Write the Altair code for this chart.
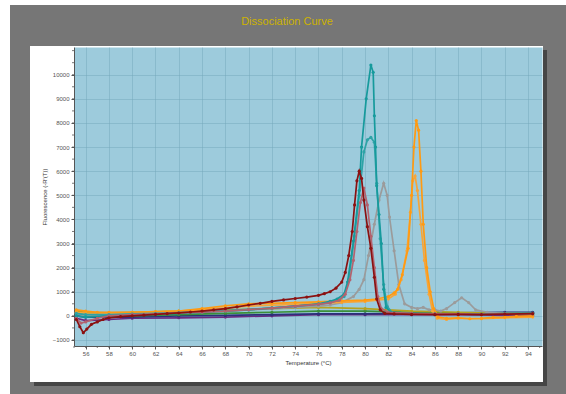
import altair as alt
import pandas as pd

# ---- axis ticks ----
X_TICKS = list(range(56, 95, 2))
Y_TICKS = list(range(-1000, 10001, 1000))
X_MINOR = list(range(55, 96, 1))
Y_MINOR = list(range(-1000, 11001, 500))

# ---- series (temperature °C, fluorescence) ----
DKRED_T = [55.2, 55.5, 55.8, 56.1, 56.5, 57, 57.5, 58, 59, 60, 61, 62, 63, 64, 65, 66, 67, 68, 69, 70, 71, 72, 73, 74, 75, 76, 76.5, 77, 77.5, 78, 78.3, 78.6, 78.9, 79.1, 79.3, 79.5, 79.7, 79.9, 80.2, 80.5, 80.8, 81.0, 81.3, 81.7, 82.5, 84, 86, 88, 90, 92, 94.4]
DKRED_F = [-150, -450, -700, -550, -350, -250, -150, -80, -30, 0, 30, 60, 90, 120, 160, 200, 250, 300, 370, 450, 520, 600, 660, 720, 780, 850, 920, 1000, 1150, 1400, 1800, 2500, 3500, 4600, 5600, 6000, 5700, 4800, 3700, 2800, 1600, 700, 250, 100, 80, 60, 50, 60, 50, 70, 90]

ROSY_T = [55.2, 55.6, 56, 57, 58, 60, 62, 64, 66, 68, 70, 72, 74, 76, 77, 77.8, 78.3, 78.7, 79.0, 79.3, 79.6, 79.9, 80.2, 80.5, 80.8, 81.1, 81.4, 82, 84, 86, 88, 90, 92, 94.4]
ROSY_F = [-100, -300, -250, -100, 0, 50, 80, 120, 150, 200, 260, 320, 400, 480, 540, 650, 900, 1500, 2300, 3500, 4700, 5300, 4600, 3300, 2000, 800, 300, 150, 100, 80, 80, 60, 80, 80]

TEAL1_T = [55.2, 56, 58, 60, 62, 64, 66, 68, 70, 72, 74, 76, 77, 77.6, 78.2, 78.5, 79.0, 79.5, 79.7, 80.1, 80.5, 80.7, 80.8, 80.9, 81.0, 81.2, 81.4, 81.6, 81.8, 82.2, 83, 84, 86, 88, 90, 92, 94.4]
TEAL1_F = [0, -50, 0, 30, 60, 100, 150, 200, 250, 320, 400, 500, 600, 700, 900, 1400, 3100, 5200, 7000, 9000, 10400, 10100, 8300, 7000, 5400, 4200, 3000, 1100, 350, 150, 120, 100, 80, 80, 70, 90, 100]

TEAL2_T = [55.2, 56, 58, 60, 62, 64, 66, 68, 70, 72, 74, 76, 77, 77.7, 78.2, 78.6, 79.1, 79.5, 79.9, 80.2, 80.5, 80.8, 81.0, 81.3, 81.6, 81.9, 82.3, 83, 84, 86, 88, 90, 92, 94.4]
TEAL2_F = [100, 50, 50, 80, 100, 130, 170, 220, 270, 330, 400, 480, 560, 650, 800, 1500, 3300, 5000, 6800, 7300, 7400, 7200, 5500, 3200, 1300, 400, 150, 100, 80, 70, 80, 60, 80, 90]

GREY_T = [55.2, 56, 58, 60, 62, 64, 66, 68, 70, 72, 74, 76, 77, 78, 79, 79.5, 79.9, 80.3, 80.8, 81.2, 81.6, 81.9, 82.1, 82.5, 82.9, 83.4, 84, 84.5, 85, 85.5, 86, 86.5, 87, 87.7, 88.3, 88.9, 89.5, 90.5, 92, 94.4]
GREY_F = [100, 0, 50, 80, 100, 130, 160, 200, 250, 300, 350, 400, 450, 550, 800, 1100, 1500, 2500, 3800, 4800, 5500, 5000, 4100, 2700, 1300, 500, 350, 300, 350, 250, 250, 200, 300, 550, 750, 550, 250, 150, 100, 100]

ORANGE1_T = [55.2, 56, 57, 58, 60, 62, 64, 66, 68, 70, 72, 74, 76, 78, 80, 81, 82, 82.5, 82.8, 83.2, 83.7, 84.0, 84.2, 84.4, 84.6, 84.8, 85.0, 85.3, 85.6, 85.9, 86.3, 87, 88, 89, 90, 91, 92, 93, 94.4]
ORANGE1_F = [250, 200, 150, 150, 150, 180, 200, 300, 420, 500, 520, 550, 580, 620, 650, 700, 800, 950, 1100, 1700, 2800, 5000, 7000, 8100, 7700, 6000, 3800, 2000, 1000, 300, -50, -100, -80, -120, -100, -60, -50, -20, 0]

ORANGE2_T = [55.2, 56, 58, 60, 62, 64, 66, 68, 70, 72, 74, 76, 78, 80, 82, 82.6, 83.1, 83.6, 83.9, 84.1, 84.3, 84.5, 84.8, 85.1, 85.5, 85.8, 86.2, 87, 88, 90, 92, 94.4]
ORANGE2_F = [150, 100, 100, 130, 160, 200, 260, 330, 400, 440, 480, 520, 560, 600, 700, 900, 1500, 2700, 4300, 5600, 5800, 5200, 3800, 2300, 900, 200, -100, -150, -100, -120, -80, -50]

BASE_T = [55.2, 56, 58, 60, 64, 68, 72, 76, 80, 84, 88, 92, 94.4]
GREEN_F = [100, 50, 0, 0, 50, 100, 150, 200, 200, 150, 100, 100, 80]
PURPLE_F = [-100, -200, -150, -100, -80, -50, 0, 50, 50, 50, 50, 20, 0]
NAVY_F = [0, -50, -50, -50, 0, 20, 50, 80, 80, 100, 120, 150, 150]
OLIVE_F = [200, 150, 120, 150, 200, 250, 300, 350, 300, 200, 150, 100, 100]

SERIES = [
    ("purple", "#6a2b80", BASE_T, PURPLE_F),
    ("navy", "#2b307a", BASE_T, NAVY_F),
    ("green", "#3a8f3a", BASE_T, GREEN_F),
    ("olive", "#b5a21e", BASE_T, OLIVE_F),
    ("grey", "#9b9b9b", GREY_T, GREY_F),
    ("orange2", "#f6a53a", ORANGE2_T, ORANGE2_F),
    ("orange1", "#ff9a12", ORANGE1_T, ORANGE1_F),
    ("teal2", "#2ea3a6", TEAL2_T, TEAL2_F),
    ("teal1", "#169a9c", TEAL1_T, TEAL1_F),
    ("rosy", "#b3626e", ROSY_T, ROSY_F),
    ("dkred", "#8b1111", DKRED_T, DKRED_F),
]

FONT = "Liberation Sans"
W, H = 468, 299

x_scale = alt.Scale(domain=[55, 95.2], nice=False, zero=False)
y_scale = alt.Scale(domain=[-1250, 11150], nice=False, zero=False)
x_axis = alt.Axis(values=X_TICKS, format="d", title="Temperature (°C)",
                  grid=True, tickSize=3, labelPadding=1, titlePadding=3)
y_axis = alt.Axis(values=Y_TICKS, format="d", title="Fluorescence (-R'(T))",
                  grid=True, tickSize=3, labelPadding=2, titlePadding=5)

x_enc = alt.X("T:Q", scale=x_scale, axis=x_axis)
y_enc = alt.Y("F:Q", scale=y_scale, axis=y_axis)

one = alt.Data(values=[{"k": 1}])


def box(x, x2, y, y2, color):
    return alt.Chart(one).mark_rect(color=color).encode(
        x=alt.value(x), x2=alt.value(x2), y=alt.value(y), y2=alt.value(y2))


GREY_BG = "#767676"
SHADOW = "#464646"
frame = [
    box(-64, 492, -42, -1, GREY_BG),
    box(-64, -44, -1, 347, GREY_BG),
    box(473, 492, -1, 347, GREY_BG),
    box(-44, 473, 339, 347, GREY_BG),
    box(469, 473, -1, 3, GREY_BG),
    box(-44, -40, 335, 339, GREY_BG),
    box(469, 473, 3, 339, SHADOW),
    box(-40, 473, 335, 339, SHADOW),
]

# minor ticks on both axes (same axis definitions so the axes merge cleanly)
x_minor = alt.Chart(pd.DataFrame({"T": X_MINOR})).mark_rule(
    color="#555555", strokeWidth=0.8).encode(
    x=x_enc, y=alt.value(H), y2=alt.value(H + 2))
y_minor = alt.Chart(pd.DataFrame({"F": Y_MINOR})).mark_rule(
    color="#555555", strokeWidth=0.8).encode(
    y=y_enc, x=alt.value(-2), x2=alt.value(0))

layers = []
for name, color, ts, fs in SERIES:
    df = pd.DataFrame({"T": ts, "F": fs, "series": name})
    layers.append(
        alt.Chart(df).mark_line(
            color=color, strokeWidth=1.7,
            point=alt.OverlayMarkDef(color=color, size=10, filled=True, opacity=1),
        ).encode(x=x_enc, y=y_enc, order="T:Q")
    )

chart = alt.layer(*frame, *layers, x_minor, y_minor).properties(
    width=W, height=H, autosize="none",
    padding={"left": 74, "top": 47, "right": 24, "bottom": 48},
    background="white",
    title=alt.TitleParams("Dissociation Curve", color="#cdb300", fontSize=11,
                          fontWeight="normal", font=FONT, anchor="middle",
                          frame="group", dx=-21, offset=-22),
).configure_view(
    fill="#9dcbdc", stroke="transparent"
).configure_axis(
    labelFont=FONT, titleFont=FONT, labelFontSize=6, titleFontSize=6,
    labelColor="#555555", titleColor="#333333", titleFontWeight="normal",
    tickColor="#555555", domainColor="#555555", gridColor="#74a6ba",
    gridOpacity=0.8, gridWidth=0.6,
)

chart.save("out.html", embed_options={"renderer": "svg", "actions": False})
